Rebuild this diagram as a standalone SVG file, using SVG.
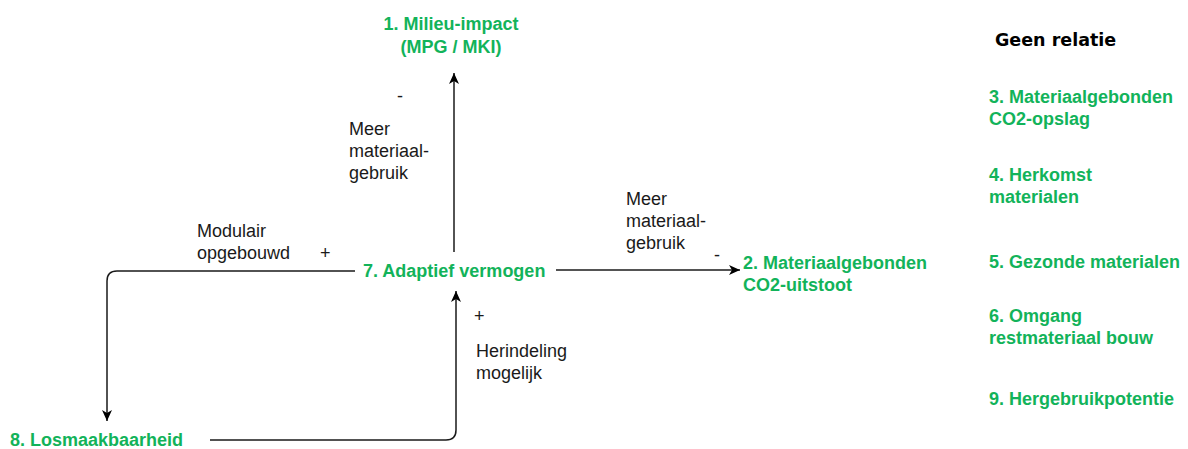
<svg xmlns="http://www.w3.org/2000/svg" width="1188" height="449" viewBox="0 0 1188 449">
<style>
.g{font-family:"Liberation Sans",Arial,sans-serif;font-weight:bold;font-size:18px;fill:#12B35A}
.t{font-family:"Liberation Sans",Arial,sans-serif;font-size:18px;fill:#1a1a1a}
.h{font-family:"DejaVu Sans",Verdana,sans-serif;font-weight:bold;font-size:17.5px;fill:#000}
.c{fill:none;stroke:#1a1a1a;stroke-width:1.5}
</style>
<defs>
<marker id="ar" viewBox="0 0 12 12" refX="11" refY="6" markerWidth="12" markerHeight="12" markerUnits="userSpaceOnUse" orient="auto">
<path d="M0,1 L11,6 L0,11 L3,6 Z" fill="#000"/>
</marker>
</defs>
<rect width="1188" height="449" fill="#fff"/>
<g id="connectors">
<path class="c" d="M454,252 V73" marker-end="url(#ar)"/>
<path class="c" d="M556,270 H740" marker-end="url(#ar)"/>
<path class="c" d="M355,271 H117 Q107,271 107,281 V421" marker-end="url(#ar)"/>
<path class="c" d="M210,440 H446 Q456,440 456,430 V291" marker-end="url(#ar)"/>
</g>
<g id="labels">
<text class="t" x="397" y="102">-</text>
<text class="t" x="349" y="135">Meer</text>
<text class="t" x="349" y="157">materiaal-</text>
<text class="t" x="349" y="179">gebruik</text>
<text class="t" x="197" y="237">Modulair</text>
<text class="t" x="197" y="259">opgebouwd</text>
<text class="t" x="320" y="259">+</text>
<text class="t" x="626" y="205">Meer</text>
<text class="t" x="626" y="227">materiaal-</text>
<text class="t" x="626" y="249">gebruik</text>
<text class="t" x="714" y="261">-</text>
<text class="t" x="474" y="322">+</text>
<text class="t" x="476" y="357">Herindeling</text>
<text class="t" x="476" y="379">mogelijk</text>
</g>
<g id="node1"><text class="g" x="451" y="30" text-anchor="middle">1. Milieu-impact</text><text class="g" x="451" y="53" text-anchor="middle">(MPG / MKI)</text></g>
<g id="node7"><text class="g" x="363" y="277">7. Adaptief vermogen</text></g>
<g id="node2"><text class="g" x="743" y="269">2. Materiaalgebonden</text><text class="g" x="743" y="291">CO2-uitstoot</text></g>
<g id="node8"><text class="g" x="10" y="446">8. Losmaakbaarheid</text></g>
<g id="geen"><text class="h" x="995" y="46">Geen relatie</text></g>
<g id="node3"><text class="g" x="989" y="103">3. Materiaalgebonden</text><text class="g" x="989" y="125">CO2-opslag</text></g>
<g id="node4"><text class="g" x="989" y="181">4. Herkomst</text><text class="g" x="989" y="203">materialen</text></g>
<g id="node5"><text class="g" x="989" y="268">5. Gezonde materialen</text></g>
<g id="node6"><text class="g" x="989" y="322">6. Omgang</text><text class="g" x="989" y="344">restmateriaal bouw</text></g>
<g id="node9"><text class="g" x="989" y="405">9. Hergebruikpotentie</text></g>
</svg>
